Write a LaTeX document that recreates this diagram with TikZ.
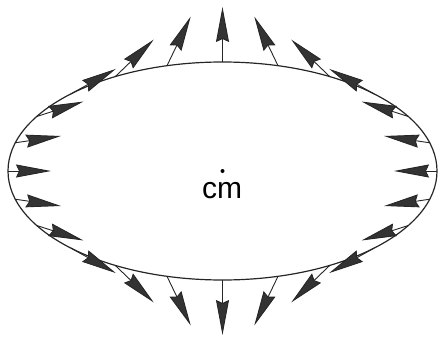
\documentclass[tikz,border=0pt]{standalone}
\usepackage{fontspec}
\setmainfont{Liberation Sans}
\usetikzlibrary{arrows.meta,calc}
\tikzset{
  outline/.style={line width=1.2pt, draw=black!85},
  vec/.style={line width=0.9pt, draw=black!85,
    -{Stealth[length=35pt,width=13pt,inset=3pt,fill=black!80]}},
}
\begin{document}
\begin{tikzpicture}[x=1pt,y=1pt]
\useasboundingbox (0,0) rectangle (441,338);
\coordinate (cm) at (222.5,167);
\draw[outline] (cm) ellipse [x radius=214.5, y radius=109];
\fill[black] (cm) circle (2);
\node[anchor=base, font=\fontsize{30}{30}\selectfont, inner sep=0pt] (lbl) at (222,140) {cm};
\foreach \k in {0,...,23}{
  \pgfmathsetmacro{\t}{15*\k}
  \pgfmathsetmacro{\dx}{-1.8*cos(\t)}
  \pgfmathsetmacro{\dy}{sin(\t)}
  \pgfmathsetmacro{\ang}{atan2(\dy,\dx)}
  \pgfmathsetmacro{\len}{43+12*abs(sin(\t))}
  \coordinate (p\k) at ($(cm)+(\t:214.5 and 109)$);
  \draw[vec] (p\k) -- ++(\ang:\len);
}
\end{tikzpicture}
\end{document}
